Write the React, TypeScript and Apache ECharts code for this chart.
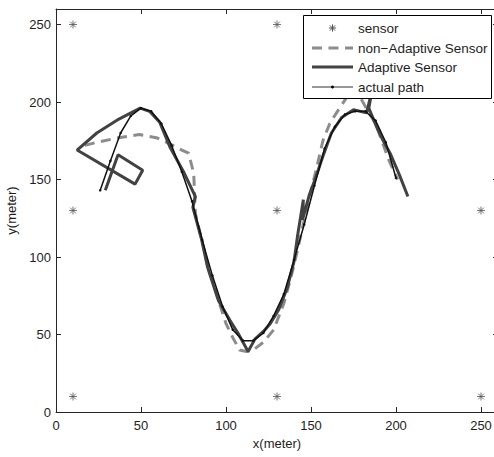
import React, { useEffect, useRef } from 'react';
import * as echarts from 'echarts';

// ---- data ----
const xTicks = [0, 50, 100, 150, 200, 250];
const yTicks = [0, 50, 100, 150, 200, 250];

const sensorPoints = [
  [10, 10], [10, 130], [10, 250],
  [130, 10], [130, 130], [130, 250],
  [250, 10], [250, 130], [250, 250],
];

const nonAdaptivePath = [
  [17, 172], [24, 174], [37, 177], [49, 179], [59, 177], [67, 173], [74, 169], [78, 167],
  [81, 154], [82, 128], [86, 110], [90, 92], [95, 74], [100, 57], [104, 48], [108, 40],
  [112, 39], [116, 40], [122, 45], [128, 53], [134, 70], [138, 86], [142, 104], [146, 124],
  [150, 143], [153, 156], [157, 175], [161, 186], [165, 193], [171, 203], [175, 209],
  [179, 203], [182, 197], [188, 186], [192, 174], [196, 162], [201, 150],
];

const adaptivePath = [
  [29, 143], [36.5, 166], [51, 156], [46.5, 147], [12.4, 169], [24, 180], [37, 189],
  [49.5, 196], [55, 194], [61, 187], [67, 171], [75, 155], [82, 139], [80.5, 132],
  [85.7, 111], [89, 94], [91, 87], [95.5, 72], [102.4, 59], [107, 51], [113, 39],
  [117, 47], [122, 52], [126, 57], [131, 66], [136, 80], [140, 97], [142, 113],
  [145.5, 137], [145, 124], [149, 140], [153, 152], [157, 165], [162, 180], [168, 190],
  [175, 195], [182.7, 193], [186, 208], [184, 196], [188.6, 184], [192, 176],
  [196.5, 167], [202, 153], [207, 139],
];

const actualPath = [
  [26, 143], [32, 162], [38, 180], [44, 191], [50, 196], [56, 194], [62, 186], [68, 172],
  [74, 155], [80, 136], [86, 111], [92, 88], [98, 68], [104, 53], [110, 46], [116, 46],
  [122, 51], [128, 62], [134, 76], [140, 98], [146, 121], [152, 146], [158, 170],
  [164, 184], [170, 192], [176, 194], [182, 194], [188, 188], [194, 174], [200, 151],
];

const legendLabels = ['sensor', 'non\u2212Adaptive Sensor', 'Adaptive Sensor', 'actual path'];

const FONT = '"Liberation Sans", Arial, Helvetica, sans-serif';
const AXIS = '#262626';
const TXT = '#1e1e1e';
const SENSOR_C = '#555555';
const NONADAPT_C = '#8c8c8c';
const ADAPT_C = '#424242';
const ACTUAL_C = '#111111';

const asteriskPath = 'path://M0,-5L0,5M-5,0L5,0M-3.6,-3.6L3.6,3.6M3.6,-3.6L-3.6,3.6';

function makeAxis(kind: 'x' | 'y', position: string, showLabel: boolean, name?: string) {
  const ticks = kind === 'x' ? xTicks : yTicks;
  const ax: any = {
    type: 'value',
    min: 0,
    max: 260,
    position,
    axisLine: { show: true, onZero: false, lineStyle: { color: AXIS, width: 1 } },
    axisTick: { show: true, inside: true, length: 5, customValues: ticks, lineStyle: { color: AXIS, width: 1 } },
    axisLabel: {
      show: showLabel,
      customValues: ticks,
      color: TXT,
      fontSize: 13,
      fontFamily: FONT,
      margin: kind === 'x' ? 7 : 5,
    },
    splitLine: { show: false },
  };
  if (name) {
    ax.name = name;
    ax.nameLocation = 'middle';
    ax.nameGap = kind === 'x' ? 21 : 30;
    ax.nameTextStyle = { color: TXT, fontSize: 13, fontFamily: FONT };
  }
  return ax;
}

function legendGraphic() {
  const left = 303.5, top = 15.5, w = 188, h = 83;
  const rows = [28, 48, 67, 87];
  const x0 = 312, x1 = 353, xc = 332.5, tx = 358;
  const els: any[] = [
    { type: 'rect', shape: { x: left, y: top, width: w, height: h }, style: { fill: '#ffffff', stroke: '#000000', lineWidth: 1 }, z: 100 },
  ];
  const r = 3.6, d = 2.6;
  const ast = [
    [xc, rows[0] - r, xc, rows[0] + r],
    [xc - r, rows[0], xc + r, rows[0]],
    [xc - d, rows[0] - d, xc + d, rows[0] + d],
    [xc + d, rows[0] - d, xc - d, rows[0] + d],
  ];
  ast.forEach((s) => els.push({ type: 'line', shape: { x1: s[0], y1: s[1], x2: s[2], y2: s[3] }, style: { stroke: SENSOR_C, lineWidth: 1 }, z: 101 }));
  els.push({ type: 'line', shape: { x1: x0, y1: rows[1], x2: x1, y2: rows[1] }, style: { stroke: NONADAPT_C, lineWidth: 3, lineDash: [10, 6.5] }, z: 101 });
  els.push({ type: 'line', shape: { x1: x0, y1: rows[2], x2: x1, y2: rows[2] }, style: { stroke: ADAPT_C, lineWidth: 3 }, z: 101 });
  els.push({ type: 'line', shape: { x1: x0, y1: rows[3], x2: x1, y2: rows[3] }, style: { stroke: '#333333', lineWidth: 1 }, z: 101 });
  els.push({ type: 'circle', shape: { cx: xc, cy: rows[3], r: 1.5 }, style: { fill: '#000000' }, z: 102 });
  legendLabels.forEach((t, i) => {
    els.push({
      type: 'text', x: tx, y: rows[i], z: 102,
      style: { text: t, fill: TXT, fontSize: 13.5, fontFamily: FONT, align: 'left', verticalAlign: 'middle' },
    });
  });
  return els;
}

export default function App() {
  const ref = useRef<HTMLDivElement>(null);
  useEffect(() => {
    if (!ref.current) return;
    const chart = echarts.init(ref.current, null, { renderer: 'svg', width: 494, height: 457 });
    chart.setOption({
      animation: false,
      backgroundColor: '#ffffff',
      grid: { left: 56, right: -4, top: 9, bottom: 45, containLabel: false, outerBoundsMode: 'none' },
      xAxis: [makeAxis('x', 'bottom', true, 'x(meter)'), makeAxis('x', 'top', false)],
      yAxis: [makeAxis('y', 'left', true, 'y(meter)'), makeAxis('y', 'right', false)],
      series: [
        {
          name: legendLabels[0], type: 'scatter', data: sensorPoints, symbol: asteriskPath, symbolSize: 8,
          itemStyle: { color: 'transparent', borderColor: SENSOR_C, borderWidth: 1 }, z: 2,
        },
        {
          name: legendLabels[1], type: 'line', data: nonAdaptivePath, showSymbol: false, symbol: 'none',
          lineStyle: { color: NONADAPT_C, width: 3, type: [10, 6.5] }, z: 3,
        },
        {
          name: legendLabels[2], type: 'line', data: adaptivePath, showSymbol: false, symbol: 'none',
          lineStyle: { color: ADAPT_C, width: 3 }, z: 4,
        },
        {
          name: legendLabels[3], type: 'line', data: actualPath, symbol: 'circle', symbolSize: 2.5, showSymbol: true,
          itemStyle: { color: ACTUAL_C }, lineStyle: { color: ACTUAL_C, width: 1.5 }, z: 5,
        },
      ],
      graphic: legendGraphic(),
    });
    return () => chart.dispose();
  }, []);
  return <div ref={ref} style={{ position: 'fixed', left: 0, top: 0, width: 494, height: 457, background: '#fff' }} />;
}
